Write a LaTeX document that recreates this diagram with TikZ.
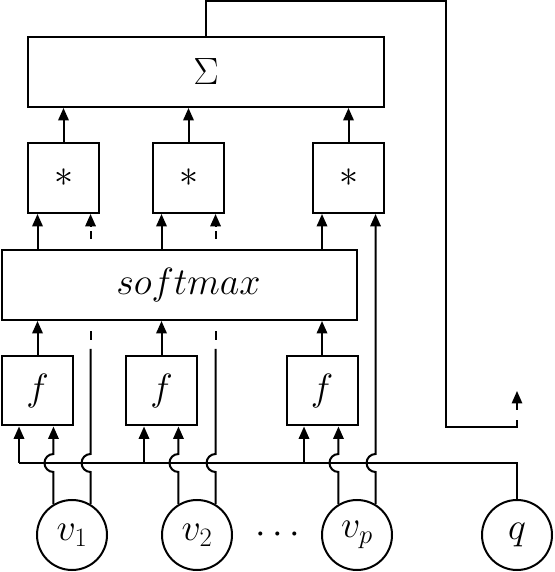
\RequirePackage{fix-cm}
\documentclass[tikz,border=0pt]{standalone}
\usetikzlibrary{arrows.meta,calc}
\begin{document}
\begin{tikzpicture}[x=1pt,y=1pt,line width=2pt,
  every node/.style={font=\fontsize{38}{46}\selectfont},
  blk/.style={draw,rectangle,inner sep=0pt},
  unit/.style={blk,minimum width=71pt,minimum height=70pt},
  wide/.style={blk,minimum height=70pt},
  var/.style={draw,circle,minimum size=70pt,inner sep=0pt},
  arr/.style={-{Triangle[length=12.5pt,width=10.5pt]}},
  loopline/.style={line width=1.6pt}]
\useasboundingbox (0,0) rectangle (554,572);
% blocks
\node[wide,minimum width=356pt] (S) at (206,500) {$\Sigma$};
\node[unit] (m1) at (63.5,394) {$*$};
\node[unit] (m2) at (188.5,394) {$*$};
\node[unit] (m3) at (348.5,394) {$*$};
\node[wide,minimum width=355pt] (sm) at (179.5,287) {\kern18pt$softmax$};
\node[unit,minimum height=69pt] (f1) at (37.5,181) {$f$};
\node[unit,minimum height=69pt] (f2) at (161.5,181) {$f$};
\node[unit,minimum height=69pt] (f3) at (322,181) {$f$};
\node[var] (v1) at (72,37) {$v_1$};
\node[var] (v2) at (197,37) {$v_2$};
\node[var] (vp) at (357,37) {$v_p$};
\node[var] (q) at (517,37) {$q$};
\node (dots) at (278,37) {$\cdots$};
% bus from q
\coordinate (bus) at (0,109);
\coordinate (b1) at (19,109);
\coordinate (b2) at (144,109);
\coordinate (b3) at (304,109);
\draw (b1) -- (q.north |- bus) -- (q.north);
\draw[arr] (b1) -- (b1 |- f1.south);
\draw[arr] (b2) -- (b2 |- f2.south);
\draw[arr] (b3) -- (b3 |- f3.south);
% left lines from v_i to f_i with hops
\draw[arr] (v1.121) -- ($(v1.121 |- bus)+(0,-9)$) arc[start angle=270,end angle=90,radius=9pt] -- (v1.121 |- f1.south);
\draw[arr] (v2.121) -- ($(v2.121 |- bus)+(0,-9)$) arc[start angle=270,end angle=90,radius=9pt] -- (v2.121 |- f2.south);
\draw[arr] (vp.121) -- ($(vp.121 |- bus)+(0,-9)$) arc[start angle=270,end angle=90,radius=9pt] -- (vp.121 |- f3.south);
% right lines from v_1, v_2 (dashed behind softmax)
\draw (v1.59) -- ($(v1.59 |- bus)+(0,-9)$) arc[start angle=270,end angle=90,radius=9pt] -- ($(v1.59 |- sm.south)+(0,-28)$);
\draw ($(v1.59 |- sm.south)+(0,-19)$) -- ($(v1.59 |- sm.south)+(0,-10)$);
\draw ($(v1.59 |- sm.north)+(0,10)$) -- ($(v1.59 |- sm.north)+(0,18)$);
\draw[arr] ($(v1.59 |- sm.north)+(0,22)$) -- (v1.59 |- m1.south);
\draw (v2.59) -- ($(v2.59 |- bus)+(0,-9)$) arc[start angle=270,end angle=90,radius=9pt] -- ($(v2.59 |- sm.south)+(0,-28)$);
\draw ($(v2.59 |- sm.south)+(0,-19)$) -- ($(v2.59 |- sm.south)+(0,-10)$);
\draw ($(v2.59 |- sm.north)+(0,10)$) -- ($(v2.59 |- sm.north)+(0,18)$);
\draw[arr] ($(v2.59 |- sm.north)+(0,22)$) -- (v2.59 |- m2.south);
% right line from v_p
\draw[arr] (vp.59) -- ($(vp.59 |- bus)+(0,-9)$) arc[start angle=270,end angle=90,radius=9pt] -- (vp.59 |- m3.south);
% f -> softmax
\draw[arr] (f1.north) -- (f1.north |- sm.south);
\draw[arr] (f2.north) -- (f2.north |- sm.south);
\draw[arr] (f3.north) -- (f3.north |- sm.south);
% softmax -> *
\draw[arr] (f1.north |- sm.north) -- (f1.north |- m1.south);
\draw[arr] (f2.north |- sm.north) -- (f2.north |- m2.south);
\draw[arr] (f3.north |- sm.north) -- (f3.north |- m3.south);
% * -> Sigma
\draw[arr] (m1.north) -- (m1.north |- S.south);
\draw[arr] (m2.north) -- (m2.north |- S.south);
\draw[arr] (m3.north) -- (m3.north |- S.south);
% feedback loop
\coordinate (tipend) at (517,181);
\draw[loopline] (S.north) -- ++(0,35) -| (446,145) -- (517,145) -- (517,152);
\draw[loopline,arr] (517,162) -- (tipend);
\end{tikzpicture}
\end{document}
